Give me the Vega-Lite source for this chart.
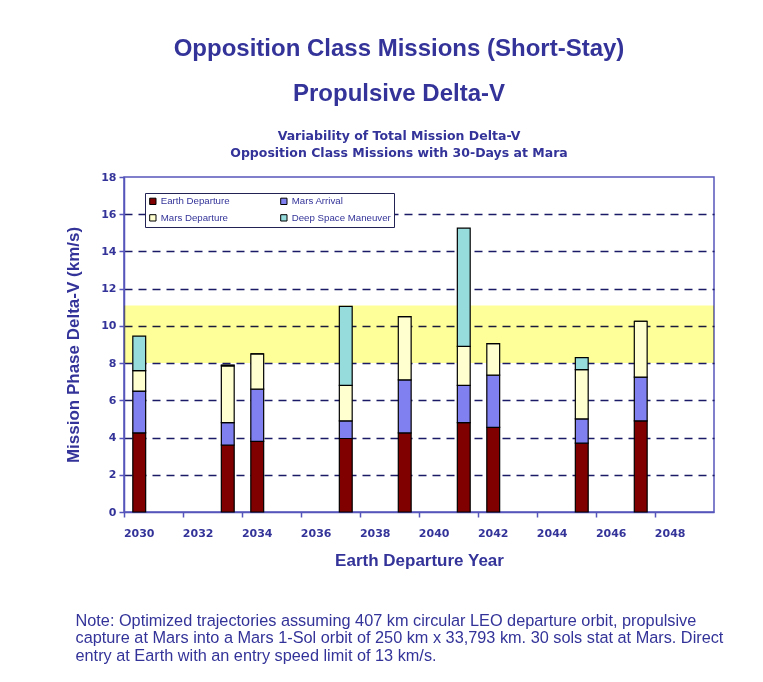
{
  "$schema": "https://vega.github.io/schema/vega-lite/v6.json",
  "width": 590,
  "height": 335,
  "padding": {"left": 64, "top": 36, "right": 49, "bottom": 0},
  "background": "white",
  "title": {
    "text": ["Opposition Class Missions (Short-Stay)", "Propulsive Delta-V"],
    "subtitle": ["Variability of Total Mission Delta-V", "Opposition Class Missions with 30-Days at Mara"],
    "anchor": "middle",
    "dx": -20,
    "font": "Liberation Sans",
    "fontSize": 24,
    "fontWeight": "bold",
    "color": "#333399",
    "lineHeight": 45,
    "subtitleFont": "DejaVu Sans",
    "subtitleFontSize": 12.5,
    "subtitleFontWeight": "bold",
    "subtitleColor": "#333399",
    "subtitleLineHeight": 17,
    "subtitlePadding": 24,
    "offset": 12
  },
  "datasets": {
    "band": [{"start": "2030", "end": "2050", "lo": 8, "hi": 11.1}],
    "missions": [
      {"year": "2030", "phase": "Earth Departure", "seq": 1, "dv": 4.25},
      {"year": "2030", "phase": "Mars Arrival", "seq": 2, "dv": 2.25},
      {"year": "2030", "phase": "Mars Departure", "seq": 3, "dv": 1.1},
      {"year": "2030", "phase": "Deep Space Maneuver", "seq": 4, "dv": 1.85},
      {"year": "2033", "phase": "Earth Departure", "seq": 1, "dv": 3.6},
      {"year": "2033", "phase": "Mars Arrival", "seq": 2, "dv": 1.2},
      {"year": "2033", "phase": "Mars Departure", "seq": 3, "dv": 3.05},
      {"year": "2033", "phase": "Deep Space Maneuver", "seq": 4, "dv": 0.05},
      {"year": "2034", "phase": "Earth Departure", "seq": 1, "dv": 3.8},
      {"year": "2034", "phase": "Mars Arrival", "seq": 2, "dv": 2.8},
      {"year": "2034", "phase": "Mars Departure", "seq": 3, "dv": 1.9},
      {"year": "2034", "phase": "Deep Space Maneuver", "seq": 4, "dv": 0},
      {"year": "2037", "phase": "Earth Departure", "seq": 1, "dv": 3.95},
      {"year": "2037", "phase": "Mars Arrival", "seq": 2, "dv": 0.95},
      {"year": "2037", "phase": "Mars Departure", "seq": 3, "dv": 1.9},
      {"year": "2037", "phase": "Deep Space Maneuver", "seq": 4, "dv": 4.25},
      {"year": "2039", "phase": "Earth Departure", "seq": 1, "dv": 4.25},
      {"year": "2039", "phase": "Mars Arrival", "seq": 2, "dv": 2.85},
      {"year": "2039", "phase": "Mars Departure", "seq": 3, "dv": 3.4},
      {"year": "2039", "phase": "Deep Space Maneuver", "seq": 4, "dv": 0},
      {"year": "2041", "phase": "Earth Departure", "seq": 1, "dv": 4.8},
      {"year": "2041", "phase": "Mars Arrival", "seq": 2, "dv": 2.0},
      {"year": "2041", "phase": "Mars Departure", "seq": 3, "dv": 2.1},
      {"year": "2041", "phase": "Deep Space Maneuver", "seq": 4, "dv": 6.35},
      {"year": "2042", "phase": "Earth Departure", "seq": 1, "dv": 4.55},
      {"year": "2042", "phase": "Mars Arrival", "seq": 2, "dv": 2.8},
      {"year": "2042", "phase": "Mars Departure", "seq": 3, "dv": 1.7},
      {"year": "2042", "phase": "Deep Space Maneuver", "seq": 4, "dv": 0},
      {"year": "2045", "phase": "Earth Departure", "seq": 1, "dv": 3.7},
      {"year": "2045", "phase": "Mars Arrival", "seq": 2, "dv": 1.3},
      {"year": "2045", "phase": "Mars Departure", "seq": 3, "dv": 2.65},
      {"year": "2045", "phase": "Deep Space Maneuver", "seq": 4, "dv": 0.65},
      {"year": "2047", "phase": "Earth Departure", "seq": 1, "dv": 4.9},
      {"year": "2047", "phase": "Mars Arrival", "seq": 2, "dv": 2.35},
      {"year": "2047", "phase": "Mars Departure", "seq": 3, "dv": 3.0},
      {"year": "2047", "phase": "Deep Space Maneuver", "seq": 4, "dv": 0}
    ]
  },
  "layer": [
    {
      "data": {"name": "band"},
      "mark": {"type": "rect", "color": "#ffff99", "blend": "multiply"},
      "encoding": {
        "x": {
          "field": "start", "type": "temporal", "timeUnit": "utcyear",
          "axis": {
            "orient": "bottom", "domain": false, "ticks": false, "labels": false, "grid": false,
            "title": [
              "Note:  Optimized trajectories assuming 407 km circular LEO departure orbit, propulsive",
              "capture at Mars into a Mars 1-Sol orbit of 250 km x 33,793 km.  30 sols stat at Mars.  Direct",
              "entry at Earth with an entry speed limit of 13 km/s."
            ],
            "titleFont": "Liberation Sans",
            "titleFontWeight": "normal",
            "titleFontSize": 16.3,
            "titleColor": "#333399",
            "titleAnchor": "start",
            "titleAlign": "left",
            "titleBaseline": "top",
            "titleX": -49,
            "titleY": 100,
            "titleLineHeight": 17.5
          }
        },
        "x2": {"field": "end", "timeUnit": "utcyear"},
        "y": {"field": "lo", "type": "quantitative", "title": "Mission Phase Delta-V (km/s)"},
        "y2": {"field": "hi"}
      }
    },
    {
      "data": {"name": "missions"},
      "mark": {"type": "bar", "stroke": "black", "strokeWidth": 1.2, "width": {"band": 0.47}},
      "encoding": {
        "x": {
          "field": "year", "type": "temporal", "timeUnit": "utcyear",
          "scale": {"domain": [{"year": 2030, "utc": true}, {"year": 2050, "utc": true}]},
          "title": "Earth Departure Year",
          "axis": {
            "orient": "bottom",
            "values": [
              {"year": 2030, "utc": true}, {"year": 2032, "utc": true}, {"year": 2034, "utc": true},
              {"year": 2036, "utc": true}, {"year": 2038, "utc": true}, {"year": 2040, "utc": true},
              {"year": 2042, "utc": true}, {"year": 2044, "utc": true}, {"year": 2046, "utc": true},
              {"year": 2048, "utc": true}
            ],
            "format": "%Y",
            "labelOffset": 14.7,
            "labelAlign": "center",
            "grid": false,
            "tickSize": 5,
            "labelPadding": 10,
            "titlePadding": 14
          }
        },
        "y": {
          "field": "dv", "type": "quantitative", "stack": "zero",
          "scale": {"domain": [0, 18], "nice": false},
          "title": "Mission Phase Delta-V (km/s)"
        },
        "order": {"field": "seq", "type": "quantitative", "sort": "ascending"},
        "color": {
          "field": "phase", "type": "nominal",
          "sort": ["Earth Departure", "Mars Arrival", "Mars Departure", "Deep Space Maneuver"],
          "scale": {
            "domain": ["Earth Departure", "Mars Arrival", "Mars Departure", "Deep Space Maneuver"],
            "range": ["#800000", "#8080f0", "#ffffd0", "#96dcdc"]
          },
          "legend": {
            "orient": "none", "legendX": 21, "legendY": 16,
            "title": null, "columns": 2, "direction": "horizontal",
            "symbolType": "square", "symbolSize": 40, "symbolStrokeColor": "black", "symbolStrokeWidth": 1,
            "labelFont": "Liberation Sans", "labelFontSize": 9.7, "labelColor": "#333399",
            "labelOffset": 3, "columnPadding": 48, "rowPadding": 5, "padding": 3,
            "strokeColor": "#222255", "fillColor": "white", "labelLimit": 200
          }
        }
      }
    }
  ],
  "resolve": {"axis": {"x": "independent"}},
  "config": {
    "view": {"stroke": "#5555bb", "strokeWidth": 1.5},
    "axis": {
      "domainColor": "#5555bb", "domainWidth": 1.5, "tickColor": "#5555bb", "tickWidth": 1.5,
      "labelFont": "DejaVu Sans", "labelFontSize": 11, "labelFontWeight": "bold", "labelColor": "#333399",
      "titleFont": "Liberation Sans", "titleFontSize": 17, "titleFontWeight": "bold", "titleColor": "#333399"
    },
    "axisY": {
      "values": [0, 2, 4, 6, 8, 10, 12, 14, 16, 18],
      "grid": true, "gridDash": [8, 6], "gridColor": "#1a1a66", "gridWidth": 1.5,
      "gridOpacity": {"condition": {"test": "datum.value === 0 || datum.value === 18", "value": 0}, "value": 1},
      "tickSize": 5, "labelPadding": 3, "titlePadding": 18
    }
  }
}
